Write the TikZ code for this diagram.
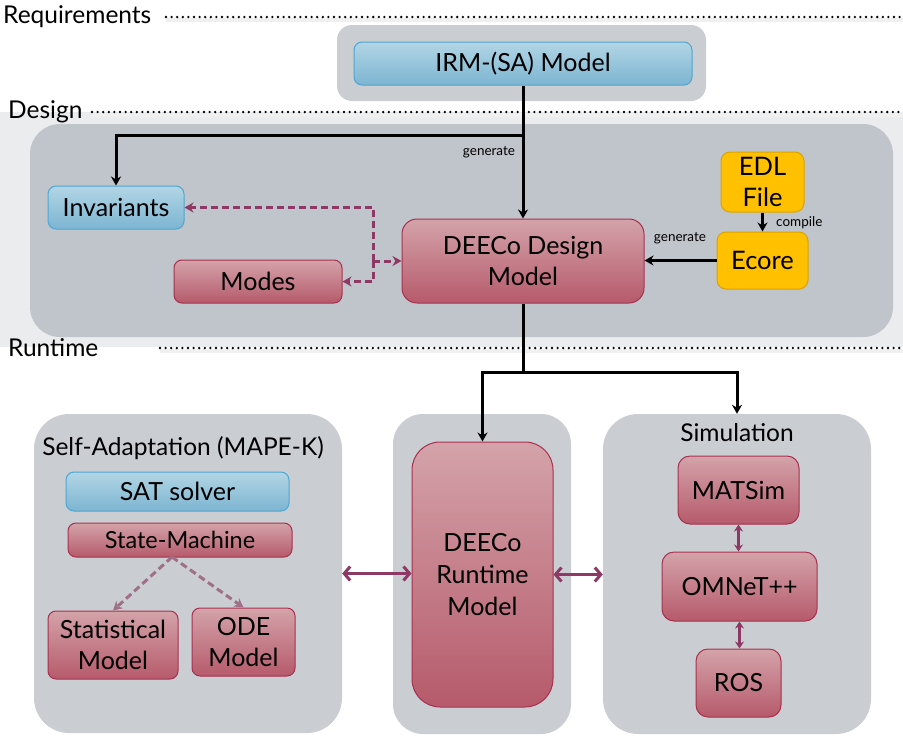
\documentclass[tikz,border=0pt]{standalone}
\usepackage{fontspec}
\setmainfont{Lato}
\usetikzlibrary{arrows.meta,calc}
\definecolor{band}{HTML}{EBECEE}
\definecolor{dsg}{HTML}{C0C4CB}
\definecolor{cont}{HTML}{CACED3}
\definecolor{redtop}{HTML}{D4A3AA}
\definecolor{redbot}{HTML}{B65A6B}
\definecolor{redline}{HTML}{A8304F}
\definecolor{bluetop}{HTML}{B2D5E5}
\definecolor{bluebot}{HTML}{7DB5D2}
\definecolor{blueline}{HTML}{4FA6CF}
\definecolor{orfill}{HTML}{FFC000}
\definecolor{orline}{HTML}{D9A300}
\definecolor{purp}{HTML}{8E3865}
\definecolor{mauve}{HTML}{A07088}
\tikzset{
  x=1pt, y=-1pt,
  container/.style={fill=cont, rounded corners=30pt, inner sep=0pt},
  redbox/.style={draw=redline, line width=1pt, rounded corners=8pt, top color=redtop, bottom color=redbot, align=center, inner sep=0pt, font=\fontsize{25}{31}\selectfont},
  bluebox/.style={draw=blueline, line width=1pt, rounded corners=8pt, top color=bluetop, bottom color=bluebot, align=center, inner sep=0pt, font=\fontsize{25}{31}\selectfont},
  orbox/.style={draw=orline, line width=1pt, rounded corners=9pt, fill=orfill, align=center, inner sep=0pt, font=\fontsize{25.5}{31}\selectfont},
  level/.style={anchor=west, inner sep=0pt, font=\fontsize{24.5}{28}\selectfont},
  dotline/.style={line width=2.6pt, dash pattern=on 0pt off 5.6pt, line cap=round, black},
  dotshadow/.style={line width=4pt, black!6},
  blk/.style={line width=3pt, -{Stealth[length=9pt,width=10pt]}},
  small/.style={font=\fontsize{13.5}{15}\selectfont, inner sep=1pt},
  pdash/.style={purp, line width=3pt, dash pattern=on 7pt off 4pt, -{Stealth[length=9pt,width=10pt]}},
  mdash/.style={mauve, line width=3pt, dash pattern=on 7pt off 4pt, -{Stealth[length=9pt,width=10pt]}},
  pdbl/.style={purp, line width=3pt, {Straight Barb[length=6pt,width=14pt]}-{Straight Barb[length=6pt,width=14pt]}},
  pvdbl/.style={purp, line width=3pt, {Stealth[length=7pt,width=9pt]}-{Stealth[length=7pt,width=9pt]}},
}
\begin{document}
\begin{tikzpicture}
\useasboundingbox (0,0) rectangle (903,745);
% bands and containers
\fill[band] (0,112) rectangle (903,347);
\node[fill=dsg, rounded corners=30pt, inner sep=0pt, minimum width=863, minimum height=213] (dsgbox) at (461.5,230.5) {};
\node[fill=cont, rounded corners=15pt, inner sep=0pt, minimum width=369, minimum height=76] (reqbox) at (521.5,63) {};
% level lines and labels
\node[level] (lreq) at (3,17) {Requirements};
\node[level] (ldes) at (8,112) {Design};
\node[level] (lrun) at (8,348) {Runtime};
\draw[dotshadow] (166,20) -- (903,20);
\draw[dotshadow] (92,115) -- (903,115);
\draw[dotshadow] (160,351) -- (903,351);
\draw[dotline] (166,17) -- (903,17);
\draw[dotline] (92,112) -- (903,112);
\draw[dotline] (160,348) -- (903,348);
% requirements
\node[bluebox, minimum width=338, minimum height=43] (irm) at (523,63.5) {IRM-(SA) Model};
% design
\node[bluebox, minimum width=136, minimum height=43] (inv) at (116,207.5) {Invariants};
\node[redbox, minimum width=168, minimum height=43] (modes) at (258,281.5) {Modes};
\node[redbox, rounded corners=15pt, minimum width=242, minimum height=84] (dd) at (523,261) {DEECo Design\\Model};
\node[orbox, minimum width=83, minimum height=60] (edl) at (762.5,182) {EDL\\File};
\node[orbox, minimum width=91, minimum height=57] (ecore) at (762.5,260.5) {Ecore};
\draw[blk] (irm.south) -- (dd.north);
\coordinate (br) at (523,135);
\draw[blk] (br) -| (inv.north);
\node[small] (gen1) at (489,152) {generate};
\draw[blk] (edl.south) -- (ecore.north);
\node[small, anchor=west] (comp) at (775,223) {compile};
\draw[blk] (ecore.west) -- (ecore.west -| dd.east);
\node[small] (gen2) at (680,238) {generate};
\coordinate (jm) at (373,261);
\draw[pdash] (jm) -- (dd.west);
\draw[pdash] (jm) |- (inv.east);
\draw[pdash] (jm) |- (modes.east);
% runtime containers
\node[container, rounded corners=35pt, minimum width=308, minimum height=319] (sabox) at (188,573.5) {};
\node[container, minimum width=178, minimum height=320] (mbox) at (482,574) {};
\node[container, rounded corners=35pt, minimum width=268, minimum height=320] (simbox) at (737,574) {};
\node[font=\fontsize{24.5}{28}\selectfont, inner sep=0pt] (satitle) at (183,448) {Self-Adaptation (MAPE-K)};
\node[font=\fontsize{24.5}{28}\selectfont, inner sep=0pt] (simtitle) at (737,433) {Simulation};
% self adaptation
\node[bluebox, minimum width=223, minimum height=39] (sat) at (177.5,491.5) {SAT solver};
\node[redbox, font=\fontsize{23.5}{28}\selectfont, minimum width=224, minimum height=34] (sm) at (180,540) {State-Machine};
\node[redbox, minimum width=130, minimum height=68] (stat) at (113,645) {Statistical\\Model};
\node[redbox, minimum width=103, minimum height=68] (ode) at (243.5,642) {ODE\\Model};
\coordinate (smo) at (172,557);
\draw[mdash] (smo) -- (stat.north);
\draw[mdash] (smo) -- (ode.north);
% runtime model
\node[redbox, rounded corners=28pt, minimum width=141, minimum height=265, font=\fontsize{25}{32}\selectfont] (drm) at (482.5,574.5) {DEECo\\Runtime\\Model};
% simulation
\node[redbox, rounded corners=12pt, minimum width=121, minimum height=68] (mats) at (738.5,490) {MATSim};
\node[redbox, rounded corners=12pt, minimum width=155, minimum height=69] (omn) at (739.5,586.5) {OMNeT++};
\node[redbox, rounded corners=12pt, minimum width=85, minimum height=68] (ros) at (738.5,683) {ROS};
% runtime arrows
\coordinate (rt) at (523,372);
\draw[line width=3pt] (dd.south) -- (rt);
\draw[blk] (rt) -| (drm.north);
\draw[blk] (rt) -| (simbox.north);
\draw[pdbl] (sabox.east) -- (sabox.east -| drm.west);
\draw[pdbl] (drm.east) -- (drm.east -| simbox.west);
\draw[pvdbl] (mats.south) -- (mats.south |- omn.north);
\draw[pvdbl] (omn.south) -- (omn.south |- ros.north);
\end{tikzpicture}
\end{document}
